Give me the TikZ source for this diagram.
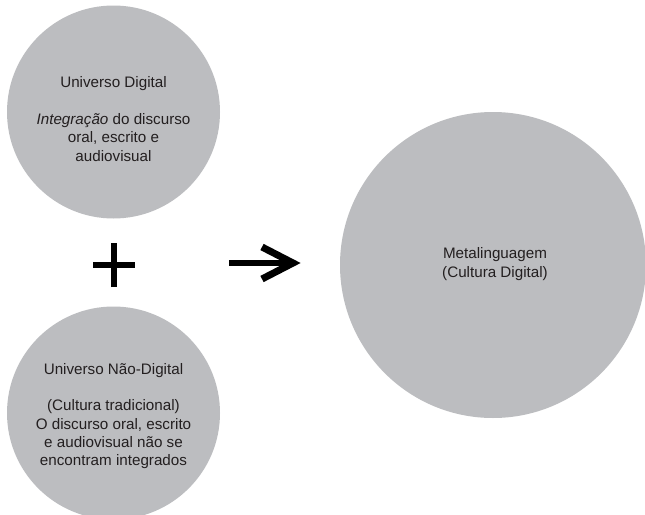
\documentclass[tikz,border=0pt]{standalone}
\usepackage{fontspec}
\setmainfont{Liberation Sans}
\definecolor{cgray}{RGB}{188,189,192}
\definecolor{ctext}{RGB}{35,31,32}
\tikzset{
  bubble/.style={circle, fill=cgray, draw=none, inner sep=0pt},
  label/.style={align=center, text=ctext, inner sep=0pt, font=\fontsize{15.2}{18.3}\selectfont},
  symbolline/.style={line width=6pt, draw=black}
}
\begin{document}
\begin{tikzpicture}[x=1pt, y=-1pt]
\clip (0,0) rectangle (645,514);
\useasboundingbox (0,0) rectangle (645,514);
\fill[white] (0,0) rectangle (645,514);
\node[bubble, minimum size=213pt] (dig) at (113.5,112) {};
\node[bubble, minimum size=213pt] (nondig) at (113.5,413) {};
\node[bubble, minimum size=306pt] (meta) at (493,265) {};
\node[label] (digtxt) at (113.5,119) {Universo Digital\\[18.3pt]\textit{Integração} do discurso\\oral, escrito e\\audiovisual};
\node[label] (nondigtxt) at (113.5,416) {Universo Não-Digital\\[18.3pt](Cultura tradicional)\\O discurso oral, escrito\\e audiovisual não se\\encontram integrados};
\node[label] (metatxt) at (495,264) {Metalinguagem\\(Cultura Digital)};
% plus sign
\coordinate (plusc) at (114,265);
\draw[symbolline] ([xshift=-21pt]plusc) -- ([xshift=21pt]plusc);
\draw[symbolline] ([yshift=-22pt]plusc) -- ([yshift=22pt]plusc);
% arrow
\coordinate (arrs) at (229,263);
\coordinate (arre) at (293,263);
\draw[symbolline] (arrs) -- ([xshift=-4pt]arre);
\draw[symbolline, line width=7pt, miter limit=10] ([xshift=-31pt,yshift=-16pt]arre) -- (arre) -- ([xshift=-31pt,yshift=16pt]arre);
\end{tikzpicture}
\end{document}
